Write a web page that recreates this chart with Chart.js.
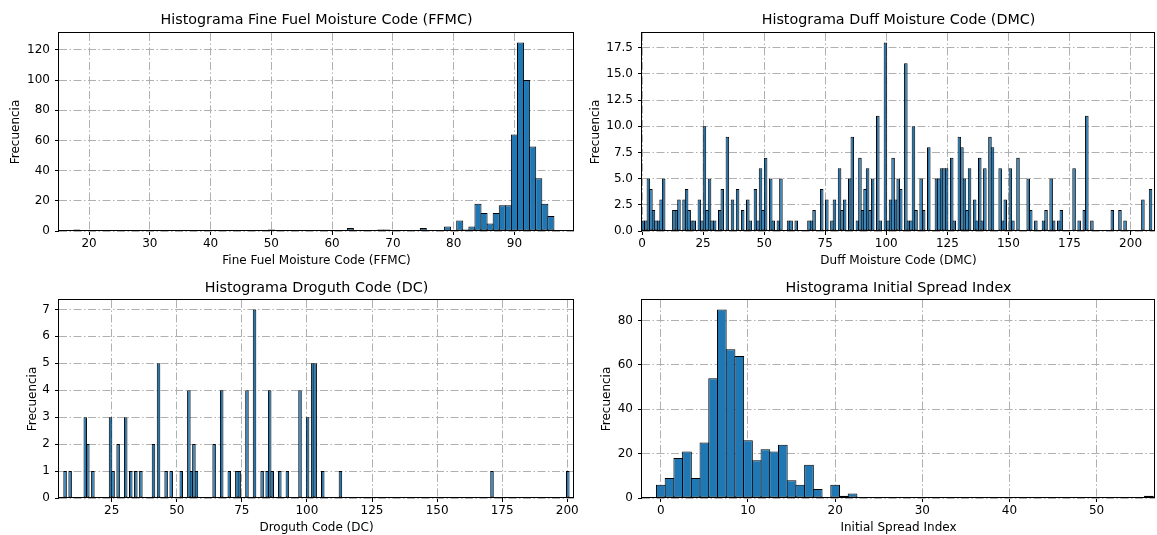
<!DOCTYPE html>
<html>
<head>
<meta charset="utf-8">
<script src="https://cdn.jsdelivr.net/npm/chart.js@4.4.1/dist/chart.umd.min.js"></script>
<style>
html,body{margin:0;padding:0;background:#fff;}
body{width:1157px;height:535px;position:relative;overflow:hidden;}
canvas{position:absolute;}
</style>
</head>
<body>
<canvas id="c1" width="600" height="268" style="left:0px;top:0px"></canvas>
<canvas id="c3" width="600" height="267" style="left:0px;top:268px"></canvas>
<canvas id="c2" width="577" height="268" style="left:580px;top:0px"></canvas>
<canvas id="c4" width="577" height="267" style="left:580px;top:268px"></canvas>
<script>
// ---------------- DATA ----------------
// FFMC histogram (bin centres, counts)
const ffmcBins   = [18, 50, 63, 68, 69, 75, 79, 81, 82, 83, 84, 85, 86, 87, 88, 89, 90, 91, 92, 93, 94, 95, 96];
const ffmcCounts = [1, 1, 2, 1, 1, 2, 3, 7, 1, 3, 18, 12, 5, 12, 17, 17, 64, 125, 100, 56, 35, 18, 10];
const ffmcXTicks = [20, 30, 40, 50, 60, 70, 80, 90];
const ffmcYTicks = [0, 20, 40, 60, 80, 100, 120];

// DMC histogram (bin index, counts)
const dmcBinStart = 0;
const dmcBinWidth = 1.0435;
const dmcBinIndex = [0,1,2,3,4,5,6,7,8, 12,13,14,16,17,18,19,20, 22,23,24,25,26,27,28, 30,31,33,35,37,39,
  41,42,44,45,46,47,48, 50,51,53,54,57,58,60, 65,66,67,70,72,74,75, 77,78,79,81,82,84,85,86,87,88,89,90,
  92,93,95,96,97,98,99,100,101, 103,104,105,106,107, 109,110,112,115,116,117,118,119,
  121,122,124,125,126,127,128, 130,131,132,133,134,136,137, 140,141,142,144,145,147,
  151,152,154,157,158,160,161,163,164, 169,171,173,174,176, 184,187,189,196,199];
const dmcCounts = [1,1,5,4,2,1,1,3,5, 2,2,3,3,4,2,1,1, 3,1,10,2,5,1,1, 2,4,9,3,4,2,
  3,1,4,1,6,2,7, 5,1,1,5,1,1,1, 1,1,2,4,3,1,3, 6,2,3,5,9,1,7,2,4,6,2,5,
  11,1,18,1,3,7,3,5,4, 16,1,1,10,2, 5,2,8,5,5,6,6,6,
  7,1,9,8,5,2,6, 3,1,7,1,6,9,8, 6,1,3,6,1,7,
  5,2,1,1,2,5,1,1,2, 6,1,2,11,1, 2,2,1,3,4];
const dmcXTicks = [0, 25, 50, 75, 100, 125, 150, 175, 200];
const dmcYTicks = [0, 2.5, 5, 7.5, 10, 12.5, 15, 17.5];

// DC histogram (bin index, counts)
const dcBinStart = 6.6;
const dcBinWidth = 0.9705;
const dcBinIndex = [0,2,8,9,11, 18,19,21,24,26, 28,30,35,37,40, 42,46,49,50,51, 52,59,62,65,68,
  69,72,75,78,80, 81,82,85,88,93, 96,98,99,102,109, 169,199];
const dcCounts = [1,1,3,2,1, 3,1,2,3,1, 1,1,2,5,1, 1,1,4,1,2, 1,2,4,1,1,
  1,4,7,1,1, 4,1,1,1,4, 3,5,5,1,1, 1,1];
const dcXTicks = [25, 50, 75, 100, 125, 150, 175, 200];
const dcYTicks = [0, 1, 2, 3, 4, 5, 6, 7];

// ISI histogram (bin centres, counts)
const isiBins   = [0,1,2,3,4,5,6,7,8,9,10,11,12,13,14,15,16,17,18,20,21,22,56];
const isiCounts = [6,9,18,21,9,25,54,85,67,64,26,17,22,21,24,8,6,15,4,6,1,2,1];
const isiXTicks = [0, 10, 20, 30, 40, 50];
const isiYTicks = [0, 20, 40, 60, 80];

// ---------------- CHARTS ----------------
const FONT = "'DejaVu Sans', sans-serif";

const framePlugin = {
  id: 'frame',
  afterDatasetsDraw(chart) {
    const {ctx, chartArea: a} = chart;
    ctx.save();
    ctx.strokeStyle = '#000';
    ctx.lineWidth = 1;
    const l = Math.round(a.left) - 0.5, t = Math.round(a.top) - 0.5;
    const r = Math.round(a.right) - 0.5, b = Math.round(a.bottom) - 0.5;
    ctx.strokeRect(l, t, r - l, b - t);
    ctx.restore();
  }
};

function pts(xs, ys) { return xs.map((x, i) => ({x: x, y: ys[i]})); }
function binPts(start, width, idx, ys) { return idx.map((k, i) => ({x: start + (k + 0.5) * width, y: ys[i]})); }

function makeChart(id, c) {
  const gridCommon = {
    color: '#b0b0b0', lineWidth: 1,
    drawTicks: true, tickLength: 4, tickColor: '#000', tickWidth: 1, tickBorderDash: [],
    offset: false
  };
  const borderCommon = { display: false, dash: [8, 2.5, 1.5, 2.5] };
  return new Chart(document.getElementById(id), {
    type: 'bar',
    data: { datasets: [{
      data: c.points, backgroundColor: '#1f77b4', borderColor: '#000', borderWidth: 1,
      borderSkipped: false, barPercentage: c.barPct, categoryPercentage: 1
    }]},
    options: {
      responsive: false, animation: false, devicePixelRatio: 1,
      layout: { padding: { left: 0, right: c.padRight, top: 0, bottom: 0 } },
      plugins: {
        legend: { display: false }, tooltip: { enabled: false },
        title: { display: true, text: c.title, fullSize: false, color: '#000',
          font: { family: FONT, size: 14.3, weight: 'normal', lineHeight: 1.2 },
          padding: { top: c.titleTop, bottom: c.titleBottom } }
      },
      scales: {
        x: {
          type: 'linear', min: c.xMin, max: c.xMax, offset: false,
          afterBuildTicks: s => { s.ticks = c.xTicks.map(v => ({value: v})); },
          afterFit: s => { s.height = c.xAxisH; },
          ticks: { color: '#000', font: { family: FONT, size: 12 }, padding: 1.8, maxRotation: 0, autoSkip: false },
          grid: gridCommon,
          border: borderCommon,
          title: { display: true, text: c.xTitle, color: '#000', font: { family: FONT, size: 12 }, padding: { top: 0, bottom: 0 } }
        },
        y: {
          type: 'linear', min: 0, max: c.yMax,
          afterBuildTicks: s => { s.ticks = c.yTicks.map(v => ({value: v})); },
          afterFit: s => { s.width = c.yAxisW; },
          ticks: { color: '#000', font: { family: FONT, size: 12 }, padding: 5,
            callback: c.yFmt || (v => String(v)) },
          grid: gridCommon,
          border: borderCommon,
          title: { display: true, text: 'Frecuencia', color: '#000', font: { family: FONT, size: 12 }, padding: { top: c.yTitlePad, bottom: 0 } }
        }
      }
    },
    plugins: [framePlugin]
  });
}

makeChart('c1', {
  points: pts(ffmcBins, ffmcCounts), title: 'Histograma Fine Fuel Moisture Code (FFMC)',
  xTitle: 'Fine Fuel Moisture Code (FFMC)', xMin: 15.06, xMax: 99.8, xTicks: ffmcXTicks,
  yMax: Math.max(...ffmcCounts) * 1.05, yTicks: ffmcYTicks, barPct: 1.165,
  padRight: 26, yAxisW: 59, xAxisH: 37, titleTop: 11.9, titleBottom: 3.9, yTitlePad: 8.5
});
makeChart('c2', {
  points: binPts(dmcBinStart, dmcBinWidth, dmcBinIndex, dmcCounts), title: 'Histograma Duff Moisture Code (DMC)',
  xTitle: 'Duff Moisture Code (DMC)', xMin: 0, xMax: 210, xTicks: dmcXTicks,
  yMax: Math.max(...dmcCounts) * 1.05, yTicks: dmcYTicks, yFmt: v => v.toFixed(1), barPct: 1.39,
  padRight: 2, yAxisW: 62, xAxisH: 37, titleTop: 11.9, titleBottom: 3.9, yTitlePad: 8.2
});
makeChart('c3', {
  points: binPts(dcBinStart, dcBinWidth, dcBinIndex, dcCounts), title: 'Histograma Droguth Code (DC)',
  xTitle: 'Droguth Code (DC)', xMin: 4.75, xMax: 202.6, xTicks: dcXTicks,
  yMax: Math.max(...dcCounts) * 1.05, yTicks: dcYTicks, barPct: 1.396,
  padRight: 26, yAxisW: 59, xAxisH: 37, titleTop: 11.4, titleBottom: 3.4, yTitlePad: 25.2
});
makeChart('c4', {
  points: pts(isiBins, isiCounts), title: 'Histograma Initial Spread Index',
  xTitle: 'Initial Spread Index', xMin: -2.16, xMax: 56.7, xTicks: isiXTicks,
  yMax: Math.max(...isiCounts) * 1.05, yTicks: isiYTicks, barPct: 1.115,
  padRight: 2, yAxisW: 62, xAxisH: 37, titleTop: 11.4, titleBottom: 3.4, yTitlePad: 19.2
});
</script>
</body>
</html>
